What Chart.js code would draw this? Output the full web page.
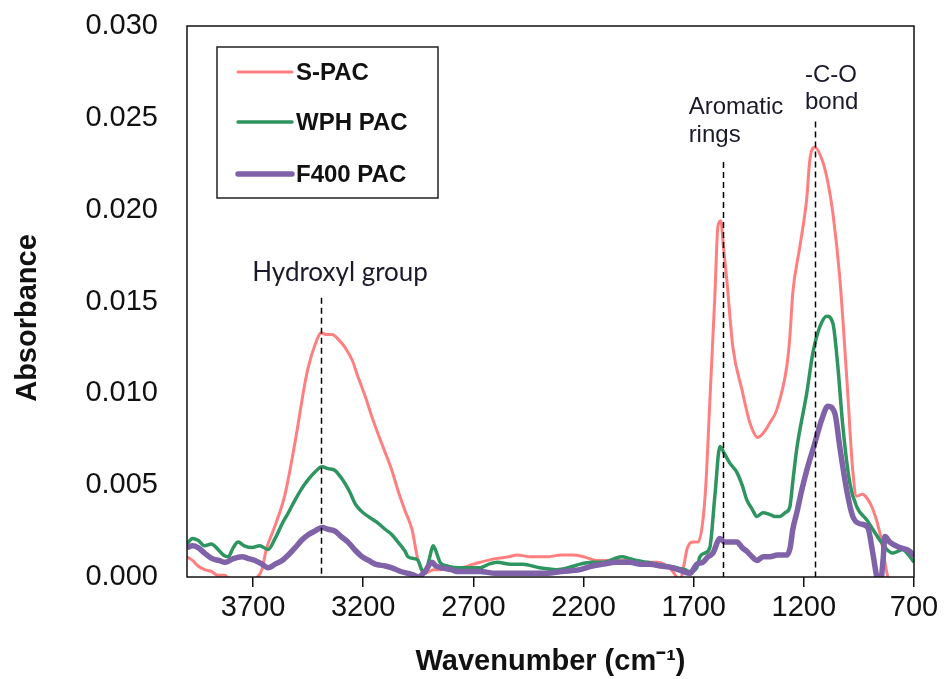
<!DOCTYPE html>
<html>
<head>
<meta charset="utf-8">
<title>FTIR spectra of PAC samples</title>
<script src="https://cdn.jsdelivr.net/npm/chart.js@4.4.1/dist/chart.umd.min.js"></script>
<style>
  html, body { margin: 0; padding: 0; background: #fff; }
  #wrap { width: 945px; height: 679px; }
</style>
</head>
<body>
<div id="wrap"><canvas id="ftirChart" width="945" height="679"></canvas></div>
<script>
// values (wavenumber in cm-1, absorbance)
const seriesNames = ["S-PAC", "WPH PAC", "F400 PAC"];

const sPacWave = [4000, 3975, 3950, 3920, 3890, 3860, 3830, 3800, 3770, 3740, 3710, 3680, 3660, 3640, 3600, 3555, 3500, 3470, 3450, 3420, 3390, 3370, 3342, 3310, 3283, 3250, 3224, 3190, 3160, 3130, 3101, 3070, 3042, 3010, 2979, 2951, 2920, 2900, 2880, 2852, 2800, 2761, 2700, 2670, 2600, 2540, 2502, 2440, 2366, 2300, 2248, 2200, 2139, 2060, 1990, 1930, 1867, 1820, 1795, 1777, 1760, 1745, 1731, 1704, 1680, 1659, 1645, 1627, 1604, 1590, 1577, 1565, 1550, 1522, 1481, 1445, 1409, 1380, 1354, 1323, 1277, 1264, 1250, 1218, 1187, 1173, 1150, 1114, 1091, 1068, 1037, 1005, 978, 960, 935, 914, 887, 855, 823, 810, 780, 700];
const sPacAbs = [0.0011, 0.0009, 0.0006, 0.0004, 0.0003, 0.0001, 0.0001, -0.0002, -0.0003, -0.0004, -0.0002, 0.0000, 0.0004, 0.0015, 0.0028, 0.0045, 0.0080, 0.0102, 0.0114, 0.0126, 0.0133, 0.0132, 0.0132, 0.0129, 0.0125, 0.0118, 0.0109, 0.0098, 0.0087, 0.0077, 0.0068, 0.0058, 0.0047, 0.0036, 0.0026, 0.0009, 0.0002, 0.0003, 0.0004, 0.0004, 0.0005, 0.0005, 0.0007, 0.0008, 0.0010, 0.0011, 0.0012, 0.0011, 0.0011, 0.0012, 0.0012, 0.0011, 0.0009, 0.0009, 0.0009, 0.0008, 0.0008, 0.0006, 0.0003, 0.0000, -0.0001, 0.0006, 0.0015, 0.0019, 0.0019, 0.0030, 0.0050, 0.0095, 0.0153, 0.0191, 0.0194, 0.0180, 0.0162, 0.0125, 0.0102, 0.0084, 0.0076, 0.0079, 0.0084, 0.0091, 0.0115, 0.0130, 0.0155, 0.0180, 0.0206, 0.0227, 0.0234, 0.0226, 0.0215, 0.0198, 0.0163, 0.0108, 0.0058, 0.0044, 0.0045, 0.0043, 0.0037, 0.0024, 0.0002, -0.0005, -0.0020, -0.0030];

const wphWave = [4000, 3975, 3950, 3920, 3890, 3859, 3835, 3813, 3790, 3768, 3740, 3705, 3670, 3632, 3600, 3568, 3540, 3509, 3480, 3450, 3420, 3387, 3360, 3328, 3300, 3283, 3260, 3237, 3210, 3178, 3140, 3101, 3070, 3042, 3010, 2997, 2970, 2951, 2935, 2920, 2900, 2883, 2861, 2852, 2820, 2774, 2720, 2670, 2630, 2593, 2530, 2475, 2400, 2321, 2270, 2216, 2160, 2112, 2060, 2026, 1990, 1958, 1910, 1867, 1820, 1776, 1740, 1717, 1686, 1672, 1650, 1627, 1604, 1581, 1560, 1536, 1504, 1480, 1459, 1435, 1413, 1385, 1354, 1330, 1309, 1285, 1264, 1250, 1232, 1187, 1159, 1128, 1096, 1068, 1046, 1023, 991, 959, 914, 887, 855, 823, 796, 751, 725, 700];
const wphAbs = [0.0018, 0.0021, 0.0020, 0.0017, 0.0018, 0.0015, 0.0012, 0.0011, 0.0016, 0.0019, 0.0017, 0.0016, 0.0017, 0.0015, 0.0021, 0.0029, 0.0035, 0.0042, 0.0048, 0.0053, 0.0057, 0.0060, 0.0059, 0.0058, 0.0054, 0.0051, 0.0046, 0.0040, 0.0036, 0.0033, 0.0030, 0.0026, 0.0023, 0.0019, 0.0014, 0.0011, 0.0010, 0.0009, 0.0004, 0.0002, 0.0010, 0.0017, 0.0011, 0.0008, 0.0006, 0.0005, 0.0005, 0.0005, 0.0007, 0.0008, 0.0007, 0.0007, 0.0005, 0.0004, 0.0005, 0.0007, 0.0008, 0.0008, 0.0010, 0.0011, 0.0010, 0.0009, 0.0008, 0.0007, 0.0006, 0.0005, 0.0004, 0.0003, 0.0005, 0.0011, 0.0013, 0.0016, 0.0044, 0.0071, 0.0067, 0.0062, 0.0057, 0.0050, 0.0042, 0.0037, 0.0033, 0.0035, 0.0034, 0.0033, 0.0033, 0.0035, 0.0038, 0.0052, 0.0070, 0.0100, 0.0122, 0.0136, 0.0142, 0.0138, 0.0115, 0.0082, 0.0051, 0.0038, 0.0031, 0.0026, 0.0020, 0.0015, 0.0013, 0.0015, 0.0012, 0.0008];

const f400Wave = [4000, 3975, 3950, 3920, 3886, 3855, 3827, 3790, 3750, 3720, 3691, 3660, 3632, 3600, 3568, 3540, 3509, 3480, 3450, 3420, 3387, 3360, 3328, 3300, 3269, 3240, 3205, 3175, 3146, 3100, 3069, 3030, 2997, 2970, 2951, 2920, 2888, 2870, 2843, 2800, 2774, 2720, 2670, 2600, 2520, 2440, 2366, 2300, 2216, 2160, 2112, 2050, 1990, 1940, 1899, 1850, 1795, 1749, 1717, 1686, 1659, 1635, 1613, 1581, 1560, 1536, 1504, 1480, 1459, 1435, 1413, 1385, 1354, 1320, 1277, 1262, 1250, 1232, 1210, 1187, 1150, 1118, 1091, 1059, 1037, 1005, 978, 946, 910, 887, 869, 855, 840, 832, 810, 764, 719, 700];
const f400Abs = [0.0016, 0.0017, 0.0016, 0.0013, 0.0010, 0.0009, 0.0008, 0.0010, 0.0011, 0.0010, 0.0009, 0.0007, 0.0005, 0.0007, 0.0009, 0.0012, 0.0016, 0.0020, 0.0023, 0.0025, 0.0027, 0.0026, 0.0025, 0.0022, 0.0019, 0.0015, 0.0011, 0.0009, 0.0007, 0.0006, 0.0005, 0.0003, 0.0002, 0.0001, 0.0000, 0.0003, 0.0008, 0.0006, 0.0005, 0.0004, 0.0003, 0.0003, 0.0003, 0.0002, 0.0002, 0.0002, 0.0002, 0.0003, 0.0004, 0.0006, 0.0007, 0.0008, 0.0008, 0.0007, 0.0007, 0.0006, 0.0005, 0.0003, 0.0002, 0.0007, 0.0008, 0.0011, 0.0013, 0.0021, 0.0019, 0.0019, 0.0019, 0.0016, 0.0014, 0.0011, 0.0009, 0.0011, 0.0011, 0.0012, 0.0012, 0.0016, 0.0026, 0.0035, 0.0047, 0.0058, 0.0073, 0.0086, 0.0093, 0.0089, 0.0071, 0.0047, 0.0033, 0.0029, 0.0027, 0.0013, 0.0000, -0.0006, 0.0010, 0.0022, 0.0019, 0.0016, 0.0014, 0.0011];

const xTicks = [3700, 3200, 2700, 2200, 1700, 1200, 700];

// dashed markers: wavenumber and the absorbance where each dash starts
const markerWave = [3390, 1565, 1150];
const markerTop = [0.0152, 0.0226, 0.0248];

const noteText = ["Hydroxyl group", "Aromatic", "rings", "-C-O", "bond"];
const noteWave = [3305, 1723, 1723, 1195, 1195];
const noteAbs = [0.0161, 0.0252, 0.0237, 0.02695, 0.02547];

const lineColors = ["#ff7f80", "#2e9460", "#7f62a8"];
const lineWidths = [3, 3.5, 5.5];

const sans = "Arial, 'Liberation Sans', sans-serif";

function toPoints(waves, values) {
    return waves.map((w, i) => ({ x: w, y: values[i] }));
}

const overlayPlugin = {
    id: "overlay",
    afterDatasetsDraw(chart) {
        const { ctx, chartArea: area, scales: { x, y } } = chart;
        ctx.save();

        // peak marker lines
        ctx.strokeStyle = "#000";
        ctx.lineWidth = 1.5;
        ctx.setLineDash([6, 4]);
        markerWave.forEach((w, i) => {
            const px = Math.round(x.getPixelForValue(w)) + 0.5;
            ctx.beginPath();
            ctx.moveTo(px, y.getPixelForValue(markerTop[i]));
            ctx.lineTo(px, y.getPixelForValue(0));
            ctx.stroke();
        });
        ctx.setLineDash([]);

        // peak notes
        ctx.fillStyle = "#1a1a2a";
        ctx.textBaseline = "alphabetic";
        noteText.forEach((t, i) => {
            const px = x.getPixelForValue(noteWave[i]);
            const py = y.getPixelForValue(noteAbs[i]);
            if (i === 0) {
                ctx.font = "26px Lato, 'Open Sans', sans-serif";
                ctx.textAlign = "center";
            } else {
                ctx.font = "24px " + sans;
                ctx.textAlign = "left";
            }
            ctx.fillText(t, px, py);
        });

        // plot frame
        ctx.strokeStyle = "#111";
        ctx.lineWidth = 1.5;
        ctx.strokeRect(area.left, area.top, area.right - area.left, area.bottom - area.top);

        // legend box inside the plot
        const bx = area.left + 30, by = area.top + 21, bw = 221, bh = 151;
        ctx.fillStyle = "#fff";
        ctx.fillRect(bx, by, bw, bh);
        ctx.strokeStyle = "#222";
        ctx.lineWidth = 1.5;
        ctx.strokeRect(bx, by, bw, bh);
        const rows = [25, 75, 127];
        ctx.font = "bold 24px " + sans;
        ctx.textAlign = "left";
        ctx.textBaseline = "middle";
        seriesNames.forEach((name, i) => {
            const ry = by + rows[i];
            ctx.strokeStyle = lineColors[i];
            ctx.lineWidth = lineWidths[i];
            ctx.lineCap = "round";
            ctx.beginPath();
            ctx.moveTo(bx + 21, ry);
            ctx.lineTo(bx + 75, ry);
            ctx.stroke();
            ctx.fillStyle = "#111";
            ctx.fillText(name, bx + 79, ry + 1);
        });

        // y axis title
        ctx.translate(28, 318);
        ctx.rotate(-Math.PI / 2);
        ctx.font = "bold 29px " + sans;
        ctx.textAlign = "center";
        ctx.textBaseline = "middle";
        ctx.fillStyle = "#111";
        ctx.fillText("Absorbance", 0, 0);

        ctx.restore();
    }
};

const ctx = document.getElementById("ftirChart").getContext("2d");
new Chart(ctx, {
    type: "line",
    data: {
        datasets: [
            { label: seriesNames[0], data: toPoints(sPacWave, sPacAbs), borderColor: lineColors[0], borderWidth: lineWidths[0], order: 2 },
            { label: seriesNames[1], data: toPoints(wphWave, wphAbs), borderColor: lineColors[1], borderWidth: lineWidths[1], order: 1 },
            { label: seriesNames[2], data: toPoints(f400Wave, f400Abs), borderColor: lineColors[2], borderWidth: lineWidths[2], order: 0 }
        ]
    },
    options: {
        responsive: false,
        animation: false,
        parsing: false,
        clip: 0,
        layout: { padding: { left: 0, top: 26, right: 31, bottom: 0 } },
        elements: {
            point: { radius: 0 },
            line: { tension: 0, cubicInterpolationMode: "monotone", borderJoinStyle: "round", fill: false }
        },
        plugins: {
            legend: { display: false },
            tooltip: { enabled: false }
        },
        scales: {
            x: {
                type: "linear",
                reverse: true,
                min: 700,
                max: 4000,
                afterBuildTicks: scale => { scale.ticks = xTicks.map(v => ({ value: v })); },
                afterFit: scale => { scale.height = 102; },
                ticks: {
                    callback: v => String(v),
                    font: { family: sans, size: 29 },
                    color: "#111",
                    padding: 4,
                    maxRotation: 0,
                    autoSkip: false
                },
                grid: { display: true, drawOnChartArea: false, drawTicks: true, tickLength: 10, color: "#111", lineWidth: 1.5 },
                border: { display: false },
                title: {
                    display: true,
                    text: "Wavenumber (cm\u207B\u00B9)",
                    font: { family: sans, size: 29, weight: "bold" },
                    color: "#111",
                    padding: { top: 0, bottom: 0 }
                }
            },
            y: {
                min: 0,
                max: 0.03,
                afterFit: scale => {
                    scale.width = 187;
                    scale.paddingTop = 0;
                    scale.paddingBottom = 0;
                },
                ticks: {
                    stepSize: 0.005,
                    callback: v => Number(v).toFixed(3),
                    font: { family: sans, size: 29 },
                    color: "#111",
                    padding: 29
                },
                grid: { display: false, drawTicks: false },
                border: { display: false }
            }
        }
    },
    plugins: [overlayPlugin]
});
</script>
</body>
</html>
